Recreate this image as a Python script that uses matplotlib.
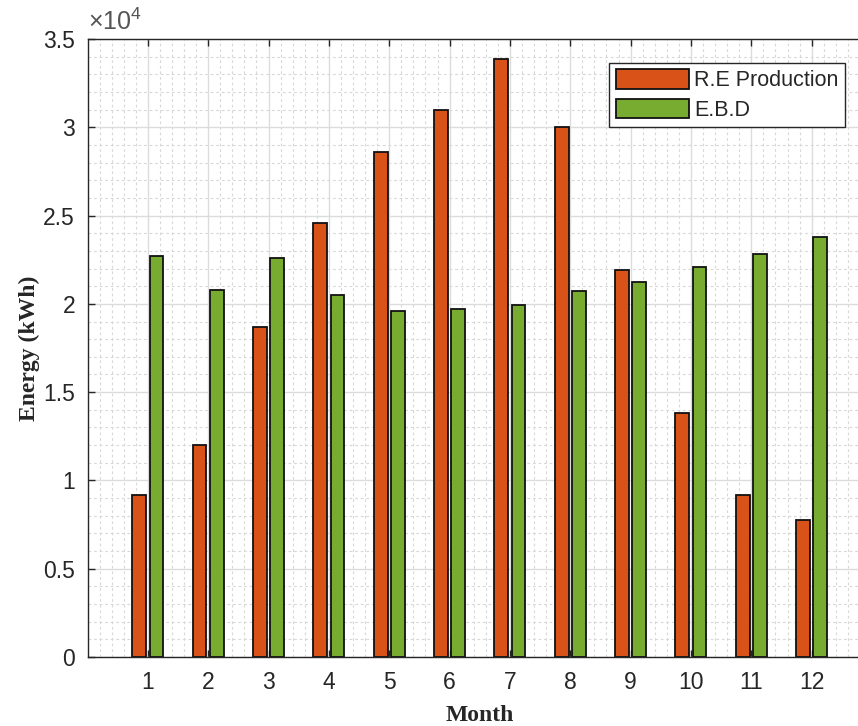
import numpy as np
import matplotlib
matplotlib.use("Agg")
import matplotlib.pyplot as plt
from matplotlib.ticker import MultipleLocator, FuncFormatter


months = np.arange(1, 13)
month_labels = [str(m) for m in months]

# monthly energy in kWh
re_production = [9150, 12000, 18700, 24600, 28600, 31000, 33850, 30000, 21900, 13800, 9150, 7750]
ebd = [22700, 20800, 22600, 20500, 19600, 19700, 19950, 20700, 21250, 22100, 22800, 23800]

series_names = ["R.E Production", "E.B.D"]

RED = "#D95319"
GREEN = "#77AC30"
AX_COLOR = "#262626"

plt.rcParams["font.family"] = ["Liberation Sans", "DejaVu Sans"]
plt.rcParams["mathtext.fontset"] = "custom"
plt.rcParams["mathtext.rm"] = "Liberation Sans"


def main():
    fig = plt.figure(figsize=(8.58, 7.26), dpi=100)
    # the original export is cropped on the right, so the axes stops at
    # the figure edge with the x range cut to match (full range was 0..13)
    left_px, full_w_px = 87.5, 784.5
    ax = fig.add_axes([left_px / 858, 69 / 726, (858 - left_px) / 858, 618 / 726])
    x_max = 13 * (858 - left_px) / full_w_px

    group_width = 2 / 3.5
    bar_w = group_width / 2 * 0.8
    offset = group_width / 4

    ax.bar(months - offset, re_production, width=bar_w, color=RED,
           edgecolor="#111111", linewidth=1.3, label=series_names[0])
    ax.bar(months + offset, ebd, width=bar_w, color=GREEN,
           edgecolor="#111111", linewidth=1.3, label=series_names[1])

    ax.set_xlim(0, x_max)
    ax.set_ylim(0, 35000)
    ax.set_xticks(months)
    ax.set_xticklabels(month_labels)
    ax.yaxis.set_major_locator(MultipleLocator(5000))
    ax.yaxis.set_minor_locator(MultipleLocator(1000))
    ax.xaxis.set_minor_locator(MultipleLocator(0.2))
    ax.yaxis.set_major_formatter(FuncFormatter(lambda v, p: "%g" % (v / 1e4)))

    ax.set_axisbelow(True)
    ax.grid(True, which="major", color="#dcdcdc", linewidth=1.0)
    ax.grid(True, which="minor", color="#d8d8d8", linewidth=0.8, linestyle=(0, (2.5, 2.5)))

    ax.tick_params(which="major", direction="in", length=5, width=1.0,
                   color=AX_COLOR, labelcolor=AX_COLOR, labelsize=16.5,
                   top=True, right=False)
    ax.tick_params(axis="x", which="major", pad=10)
    ax.tick_params(axis="y", which="major", pad=9)
    ax.tick_params(which="minor", length=0)

    for s in ax.spines.values():
        s.set_color(AX_COLOR)
        s.set_linewidth(1.0)
    ax.spines["right"].set_visible(False)

    ax.set_xlabel("Month", family="Liberation Serif", fontweight="bold",
                  fontsize=17, color=AX_COLOR)
    ax.set_ylabel("Energy (kWh)", family="Liberation Serif", fontweight="bold",
                  fontsize=17, color=AX_COLOR)
    # label coords relative to the full (uncropped) axes width
    ax.xaxis.set_label_coords(0.5 * full_w_px / (858 - left_px), -0.078)
    ax.yaxis.set_label_coords(-0.06 * full_w_px / (858 - left_px), 0.5)

    ax.text(0.0, 1.006, r"$\times\mathdefault{10^{4}}$", transform=ax.transAxes,
            fontsize=18, color="#555555", ha="left", va="bottom")

    # legend corner at (845, 63) px
    leg = ax.legend(loc="upper right",
                    bbox_to_anchor=((845 - left_px) / (858 - left_px), 0.9612),
                    borderaxespad=0, fontsize=15.5, fancybox=False,
                    handlelength=3.4, handleheight=1.0, handletextpad=0.25,
                    borderpad=0.3, labelspacing=0.35, framealpha=1)
    leg.get_frame().set_edgecolor(AX_COLOR)
    leg.get_frame().set_linewidth(1.0)
    for t in leg.get_texts():
        t.set_color(AX_COLOR)

    fig.savefig("out.png", dpi=100)
    plt.close(fig)


if __name__ == "__main__":
    main()
